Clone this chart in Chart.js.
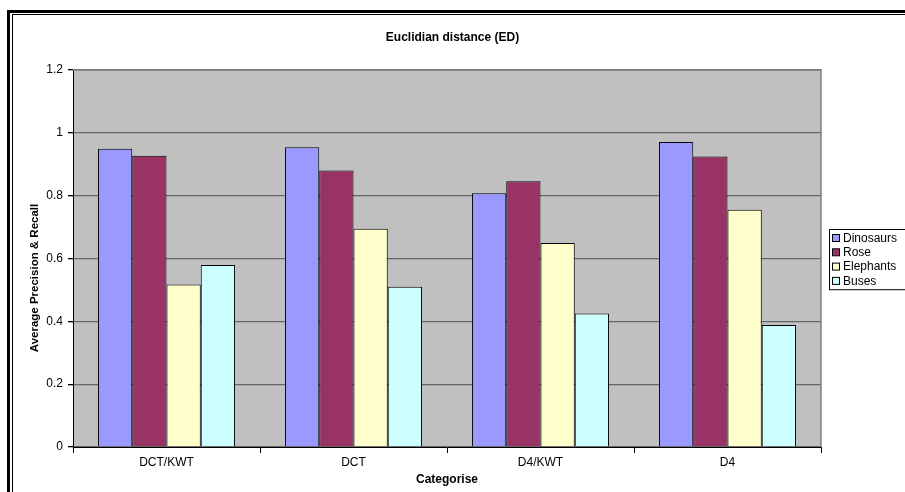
<!DOCTYPE html>
<html>
<head>
<meta charset="utf-8">
<script src="https://cdn.jsdelivr.net/npm/chart.js@4.4.0/dist/chart.umd.min.js"></script>
<style>
  html, body { margin: 0; padding: 0; background: #fff; overflow: hidden; }
  #wrap { position: relative; width: 905px; height: 492px; }
  #frameOuter { position: absolute; left: 7px; top: 10px; width: 1000px; height: 1000px; border: 3px solid #000; }
  #frameInner { position: absolute; left: 12px; top: 14px; width: 1000px; height: 1000px; border: 1px solid #000; }
  canvas { position: absolute; left: 0; top: 0; }
</style>
</head>
<body>
<div id="wrap">
  <div id="frameOuter"></div>
  <div id="frameInner"></div>
  <canvas id="edChart" width="905" height="492"></canvas>
</div>
<script>
var CATEGORIES = ['DCT/KWT', 'DCT', 'D4/KWT', 'D4'];
var DINOSAURS = [0.949, 0.954, 0.808, 0.971];
var ROSE = [0.927, 0.880, 0.846, 0.925];
var ELEPHANTS = [0.517, 0.695, 0.649, 0.755];
var BUSES = [0.579, 0.510, 0.425, 0.388];
var Y_TICKS = [0, 0.2, 0.4, 0.6, 0.8, 1, 1.2];
var Y_TITLE = 'Average Precision & Recall';

var FONT = 'Liberation Sans, Arial, sans-serif';

// grey plot background and right edge
var plotBackground = {
    id: 'plotBackground',
    beforeDraw: function(chart) {
        var a = chart.chartArea;
        var ctx = chart.ctx;
        ctx.save();
        ctx.fillStyle = '#c0c0c0';
        ctx.fillRect(a.left, a.top, a.right - a.left, a.bottom - a.top);
        ctx.restore();
    },
    afterDatasetsDraw: function(chart) {
        var a = chart.chartArea;
        var ctx = chart.ctx;
        ctx.save();
        ctx.strokeStyle = '#808080';
        ctx.lineWidth = 1.5;
        ctx.beginPath();
        ctx.moveTo(a.left, a.top);
        ctx.lineTo(a.right, a.top);
        ctx.lineTo(a.right, a.bottom);
        ctx.stroke();
        ctx.restore();
    }
};

// y title sits a little below the plot middle, like the Excel original
var yTitle = {
    id: 'yTitle',
    afterDraw: function(chart) {
        var ctx = chart.ctx;
        ctx.save();
        ctx.translate(35, 278);
        ctx.rotate(-Math.PI / 2);
        ctx.font = 'bold 11.5px ' + FONT;
        ctx.fillStyle = '#000';
        ctx.textAlign = 'center';
        ctx.textBaseline = 'middle';
        ctx.fillText(Y_TITLE, 0, 0);
        ctx.restore();
    }
};

// Excel style boxed legend on the right
var boxLegend = {
    id: 'boxLegend',
    afterDraw: function(chart) {
        var ctx = chart.ctx;
        var x = 829, y = 229, rowH = 14.3;
        var sets = chart.data.datasets;
        ctx.save();
        ctx.fillStyle = '#fff';
        ctx.fillRect(x, y, 90, sets.length * rowH + 4);
        ctx.strokeStyle = '#000';
        ctx.lineWidth = 1;
        ctx.strokeRect(x + 0.5, y + 0.5, 90, sets.length * rowH + 3);
        ctx.font = '12px ' + FONT;
        ctx.textBaseline = 'middle';
        sets.forEach(function(ds, i) {
            var cy = y + 9 + i * rowH;
            ctx.fillStyle = ds.backgroundColor;
            ctx.fillRect(x + 3.5, cy - 3.5, 7, 7);
            ctx.strokeStyle = '#000';
            ctx.strokeRect(x + 3.5, cy - 3.5, 7, 7);
            ctx.fillStyle = '#000';
            ctx.fillText(ds.label, x + 14, cy + 0.5);
        });
        ctx.restore();
    }
};

function makeSet(label, data, color) {
    return {
        label: label,
        data: data,
        backgroundColor: color,
        borderColor: '#000',
        borderWidth: 1,
        barPercentage: 1.0,
        categoryPercentage: 0.733
    };
}

var edChart = new Chart(document.getElementById('edChart'), {
    type: 'bar',
    data: {
        labels: CATEGORIES,
        datasets: [
            makeSet('Dinosaurs', DINOSAURS, '#9999ff'),
            makeSet('Rose', ROSE, '#993366'),
            makeSet('Elephants', ELEPHANTS, '#ffffcc'),
            makeSet('Buses', BUSES, '#ccffff')
        ]
    },
    options: {
        responsive: false,
        animation: false,
        layout: { padding: 0 },
        plugins: {
            legend: { display: false },
            tooltip: { enabled: false },
            title: {
                display: true,
                text: 'Euclidian distance (ED)',
                color: '#000',
                font: { family: FONT, size: 12, weight: 'bold' },
                padding: { top: 30, bottom: 25.6 }
            }
        },
        scales: {
            x: {
                grid: {
                    offset: true,
                    drawOnChartArea: false,
                    tickLength: 6,
                    tickColor: '#000'
                },
                border: { color: '#000', width: 1 },
                ticks: {
                    color: '#000',
                    padding: 2,
                    font: { family: FONT, size: 12 }
                },
                title: {
                    display: true,
                    text: 'Categorise',
                    color: '#000',
                    font: { family: FONT, size: 12, weight: 'bold' },
                    padding: { top: 0, bottom: 5 }
                },
                afterFit: function(scale) { scale.height = 45; }
            },
            y: {
                min: 0,
                max: 1.2,
                afterBuildTicks: function(scale) {
                    scale.ticks = Y_TICKS.map(function(v) { return { value: v }; });
                },
                grid: {
                    color: '#666',
                    lineWidth: 1.3,
                    tickLength: 5,
                    tickColor: '#000'
                },
                border: { color: '#000', width: 1 },
                ticks: {
                    color: '#000',
                    padding: 5,
                    font: { family: FONT, size: 12 },
                    callback: function(value) { return String(value); }
                },
                afterFit: function(scale) { scale.width = 73; }
            },
            // empty axis reserving room for the legend
            spacer: {
                type: 'linear',
                position: 'right',
                display: true,
                grid: { display: false },
                border: { display: false },
                ticks: { display: false },
                afterFit: function(scale) { scale.width = 84; }
            }
        }
    },
    plugins: [plotBackground, yTitle, boxLegend]
});
</script>
</body>
</html>
